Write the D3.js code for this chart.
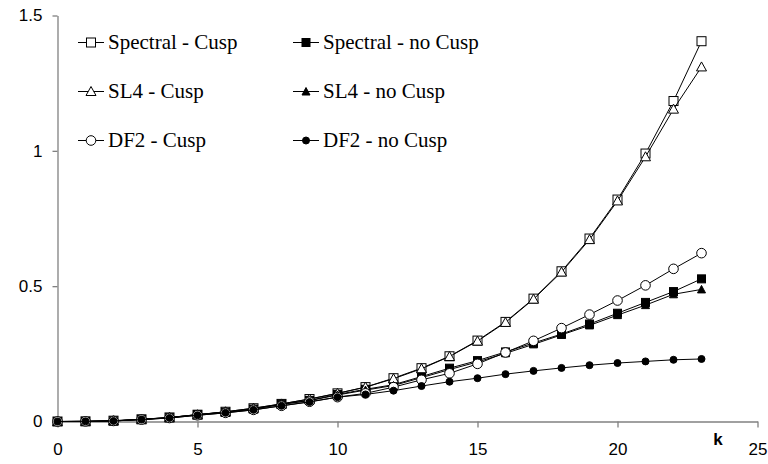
<!DOCTYPE html>
<html lang="en">
	<head>
		<meta charset="UTF-8" />
		<title>Chart</title>
		<style>
			body { margin: 0; background: #fff; }
		</style>
	</head>
	<body>
		<svg id="svg" width="768" height="464"></svg>
		<script src="https://d3js.org/d3.v7.min.js"></script>
		<script>
			// k values along x
			const kValues = d3.range(0, 24);

			const spectralCusp = [0, 0.0005, 0.003, 0.008, 0.015, 0.025, 0.036, 0.049, 0.065, 0.083, 0.104, 0.127, 0.16, 0.197, 0.241, 0.299, 0.368, 0.454, 0.555, 0.676, 0.82, 0.99, 1.184, 1.405];
			const spectralNoCusp = [0, 0.0005, 0.002, 0.008, 0.014, 0.026, 0.034, 0.046, 0.064, 0.078, 0.1, 0.119, 0.136, 0.166, 0.197, 0.225, 0.257, 0.29, 0.323, 0.36, 0.4, 0.44, 0.48, 0.527];
			const sl4Cusp = [0, 0.0005, 0.003, 0.008, 0.015, 0.025, 0.036, 0.049, 0.065, 0.083, 0.104, 0.127, 0.158, 0.195, 0.24, 0.297, 0.366, 0.452, 0.552, 0.672, 0.815, 0.978, 1.154, 1.31];
			const sl4NoCusp = [0, 0.0005, 0.002, 0.008, 0.014, 0.025, 0.034, 0.046, 0.063, 0.077, 0.098, 0.116, 0.133, 0.162, 0.192, 0.22, 0.252, 0.285, 0.32, 0.355, 0.393, 0.43, 0.47, 0.488];
			const df2Cusp = [0, 0.0005, 0.002, 0.007, 0.013, 0.023, 0.032, 0.043, 0.058, 0.073, 0.09, 0.104, 0.127, 0.154, 0.178, 0.213, 0.255, 0.298, 0.345, 0.395, 0.447, 0.503, 0.564, 0.622];
			const df2NoCusp = [0, 0.0005, 0.002, 0.007, 0.013, 0.023, 0.032, 0.043, 0.058, 0.072, 0.09, 0.1, 0.114, 0.131, 0.147, 0.16, 0.175, 0.187, 0.198, 0.208, 0.216, 0.222, 0.228, 0.231];

			const xTicks = [0, 5, 10, 15, 20, 25];
			const yTicks = [0, 0.5, 1, 1.5];

			const series = [
				{ name: 'Spectral - Cusp', values: spectralCusp, shape: 'square', filled: false },
				{ name: 'Spectral - no Cusp', values: spectralNoCusp, shape: 'square', filled: true },
				{ name: 'SL4 - Cusp', values: sl4Cusp, shape: 'triangle', filled: false },
				{ name: 'SL4 - no Cusp', values: sl4NoCusp, shape: 'triangle', filled: true },
				{ name: 'DF2 - Cusp', values: df2Cusp, shape: 'circle', filled: false },
				{ name: 'DF2 - no Cusp', values: df2NoCusp, shape: 'circle', filled: true },
			];

			const svg = d3.select('#svg');
			const x = d3.scaleLinear().domain([0, 25]).range([57.5, 757.5]);
			const y = d3.scaleLinear().domain([0, 1.5]).range([421.5, 15.5]);

			// axes
			const xAxis = svg.append('g')
				.attr('transform', `translate(0,${y(0)})`)
				.call(d3.axisBottom(x).tickValues(xTicks).tickSize(6).tickPadding(15).tickSizeOuter(0));
			const yAxis = svg.append('g')
				.attr('transform', `translate(${x(0)},0)`)
				.call(d3.axisLeft(y).tickValues(yTicks).tickSize(5).tickPadding(10).tickFormat(d3.format('')).tickSizeOuter(0));

			[xAxis, yAxis].forEach((g) => {
				g.selectAll('path, line').attr('stroke', '#808080').attr('stroke-width', 1.3);
				g.selectAll('text')
					.attr('fill', '#000')
					.style('font-family', '"Liberation Sans", Arial, sans-serif')
					.style('font-size', '17px');
			});

			svg.append('text')
				.attr('x', 718)
				.attr('y', 445)
				.attr('text-anchor', 'middle')
				.style('font-family', '"Liberation Sans", Arial, sans-serif')
				.style('font-weight', 'bold')
				.style('font-size', '17px')
				.text('k');

			function drawMarker(g, s) {
				const fill = s.filled ? '#000' : '#fff';
				if (s.shape === 'square') {
					const size = s.filled ? 8 : 9;
					g.append('rect')
						.attr('x', -size / 2).attr('y', -size / 2)
						.attr('width', size).attr('height', size)
						.attr('fill', fill).attr('stroke', '#000').attr('stroke-width', 1);
				} else if (s.shape === 'triangle') {
					g.append('path')
						.attr('d', s.filled ? 'M0,-4 L4,3.5 L-4,3.5 Z' : 'M0,-5 L5,4 L-5,4 Z')
						.attr('fill', fill).attr('stroke', '#000').attr('stroke-width', 1);
				} else {
					g.append('circle')
						.attr('r', s.filled ? 3.5 : 4.8)
						.attr('fill', fill).attr('stroke', '#000').attr('stroke-width', 1);
				}
			}

			const line = d3.line()
				.x((d, i) => x(kValues[i]))
				.y((d) => y(d));

			const plot = svg.append('g');
			series.forEach((s) => {
				const g = plot.append('g');
				g.append('path')
					.attr('d', line(s.values))
					.attr('fill', 'none')
					.attr('stroke', '#000')
					.attr('stroke-width', 1);
				g.selectAll('g.pt')
					.data(s.values)
					.enter()
					.append('g')
					.attr('class', 'pt')
					.attr('transform', (d, i) => `translate(${x(kValues[i])},${y(d)})`)
					.each(function () { drawMarker(d3.select(this), s); });
			});

			// legend: two columns, three rows
			const legend = svg.append('g');
			series.forEach((s, i) => {
				const col = i % 2;
				const row = Math.floor(i / 2);
				const lx = col === 0 ? 78 : 293;
				const ly = 42.5 + row * 49;
				const g = legend.append('g').attr('transform', `translate(${lx},${ly})`);
				g.append('line')
					.attr('x1', 0).attr('x2', 26)
					.attr('stroke', '#000').attr('stroke-width', 1);
				drawMarker(g.append('g').attr('transform', 'translate(13,0)'), s);
				g.append('text')
					.attr('x', 30)
					.attr('y', 6)
					.style('font-family', '"Liberation Serif", "Times New Roman", serif')
					.style('font-size', '21px')
					.text(s.name);
			});
		</script>
	</body>
</html>
